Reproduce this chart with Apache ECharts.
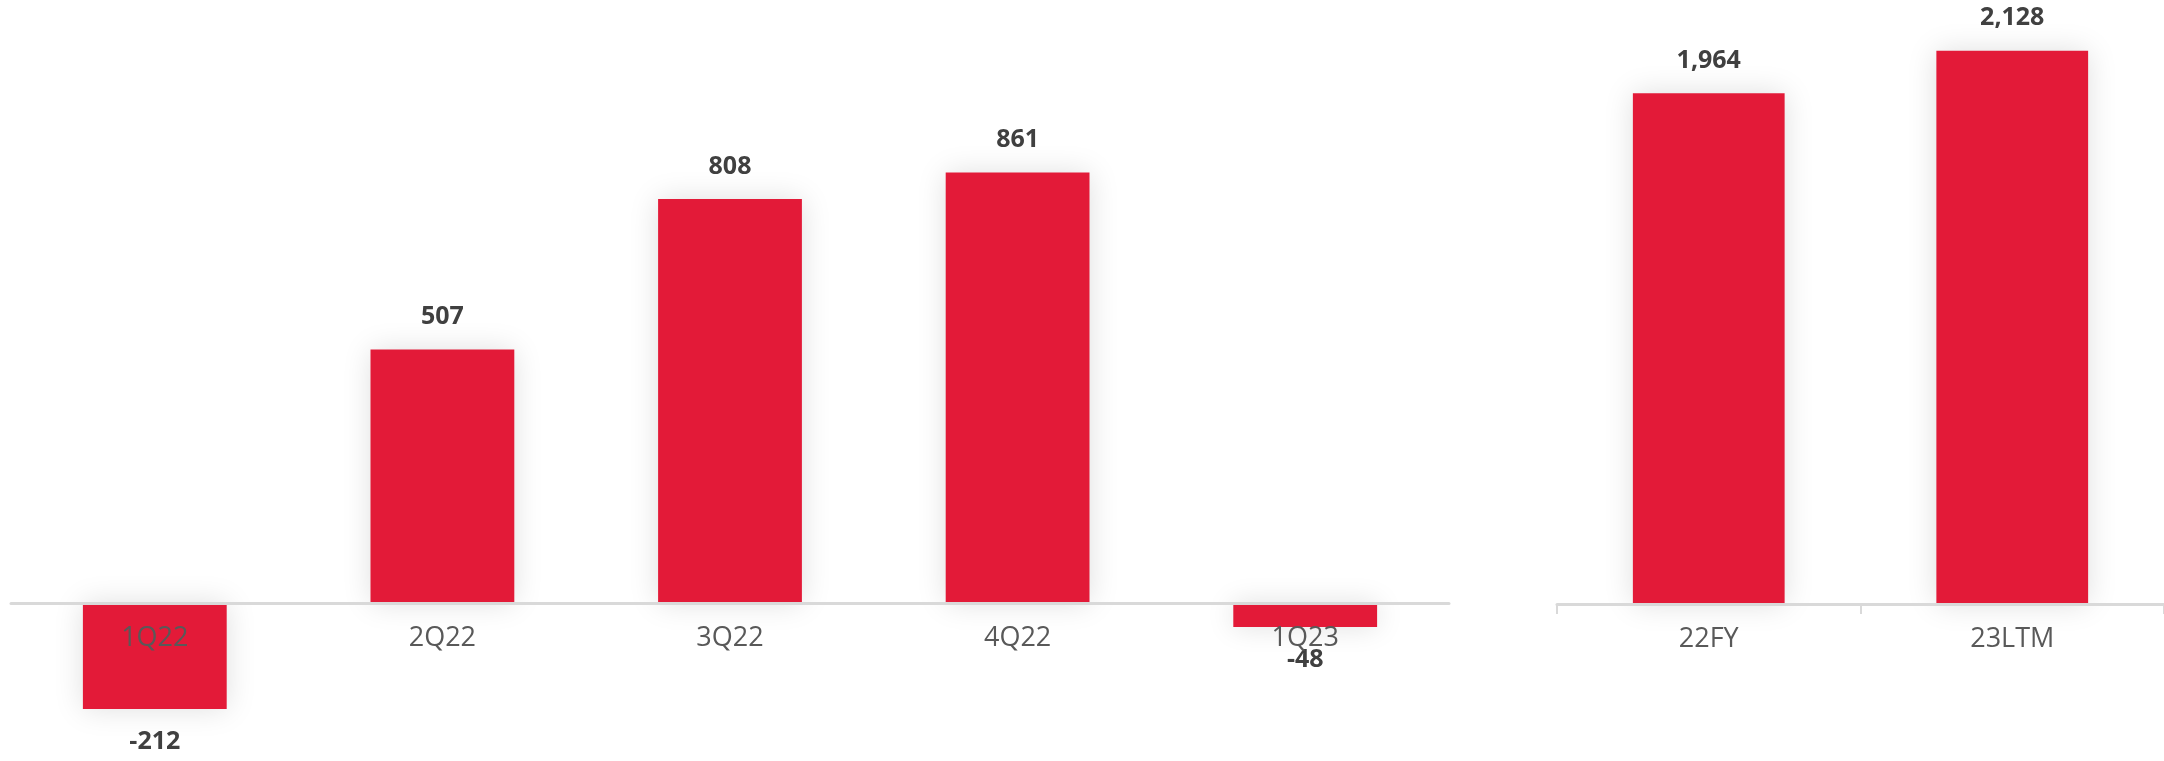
<!DOCTYPE html>
<html>
<head>
<meta charset="utf-8">
<script src="https://cdn.jsdelivr.net/npm/echarts@6/dist/echarts.min.js"></script>
<style>
html,body{margin:0;padding:0;background:#fff;}
#chart{width:2164px;height:761px;}
</style>
</head>
<body>
<div id="chart"></div>
<script>
const quarterCategories = ['1Q22', '2Q22', '3Q22', '4Q22', '1Q23'];
const quarterValues = [-212, 507, 808, 861, -48];
const annualCategories = ['22FY', '23LTM'];
const annualValues = [1964, 2128];

const RED = '#E31A38';
const fmt = p => Number(p.value).toLocaleString('en-US');

function toItems(vals) {
  return vals.map(v => ({
    value: v,
    label: { position: v < 0 ? 'bottom' : 'top' }
  }));
}

const labelStyle = {
  show: true,
  formatter: fmt,
  distance: 20,
  color: '#404040',
  fontFamily: 'Open Sans',
  fontWeight: 'bold',
  fontSize: 25
};
const itemStyle = {
  color: RED,
  shadowBlur: 28,
  shadowColor: 'rgba(0,0,0,0.13)'
};
const axisLabel = {
  color: '#595959',
  fontFamily: 'Open Sans',
  fontSize: 27,
  margin: 22
};

// left grid: top 103, height 650 (bottom 753); zero of y-range [-300,1000] sits 150px above bottom
const chart = echarts.init(document.getElementById('chart'), null, { renderer: 'canvas' });
chart.setOption({
  animation: false,
  backgroundColor: '#ffffff',
  grid: [
    { left: 11, width: 1438, top: 103, height: 650, containLabel: false, outerBoundsMode: 'none' },
    { left: 1557, right: 0, top: 32, height: 572, containLabel: false, outerBoundsMode: 'none' }
  ],
  xAxis: [
    {
      gridIndex: 0, type: 'category', data: quarterCategories, z: 10,
      offset: -150,
      axisLine: { show: true, onZero: false, lineStyle: { color: '#d9d9d9', width: 3 } },
      axisTick: { show: false },
      axisLabel: axisLabel
    },
    {
      gridIndex: 1, type: 'category', data: annualCategories, z: 10,
      axisLine: { show: true, lineStyle: { color: '#d9d9d9', width: 3 } },
      axisTick: { show: true, length: 10, lineStyle: { color: '#d9d9d9', width: 2 } },
      axisLabel: axisLabel
    }
  ],
  yAxis: [
    { gridIndex: 0, type: 'value', min: -300, max: 1000, show: false, splitLine: { show: false } },
    { gridIndex: 1, type: 'value', min: 0, max: 2200, show: false, splitLine: { show: false } }
  ],
  series: [
    {
      type: 'bar', xAxisIndex: 0, yAxisIndex: 0, barWidth: '50%',
      data: toItems(quarterValues), itemStyle: itemStyle, label: labelStyle
    },
    {
      type: 'bar', xAxisIndex: 1, yAxisIndex: 1, barWidth: '50%',
      data: toItems(annualValues), itemStyle: itemStyle, label: labelStyle
    }
  ]
});
</script>
</body>
</html>
